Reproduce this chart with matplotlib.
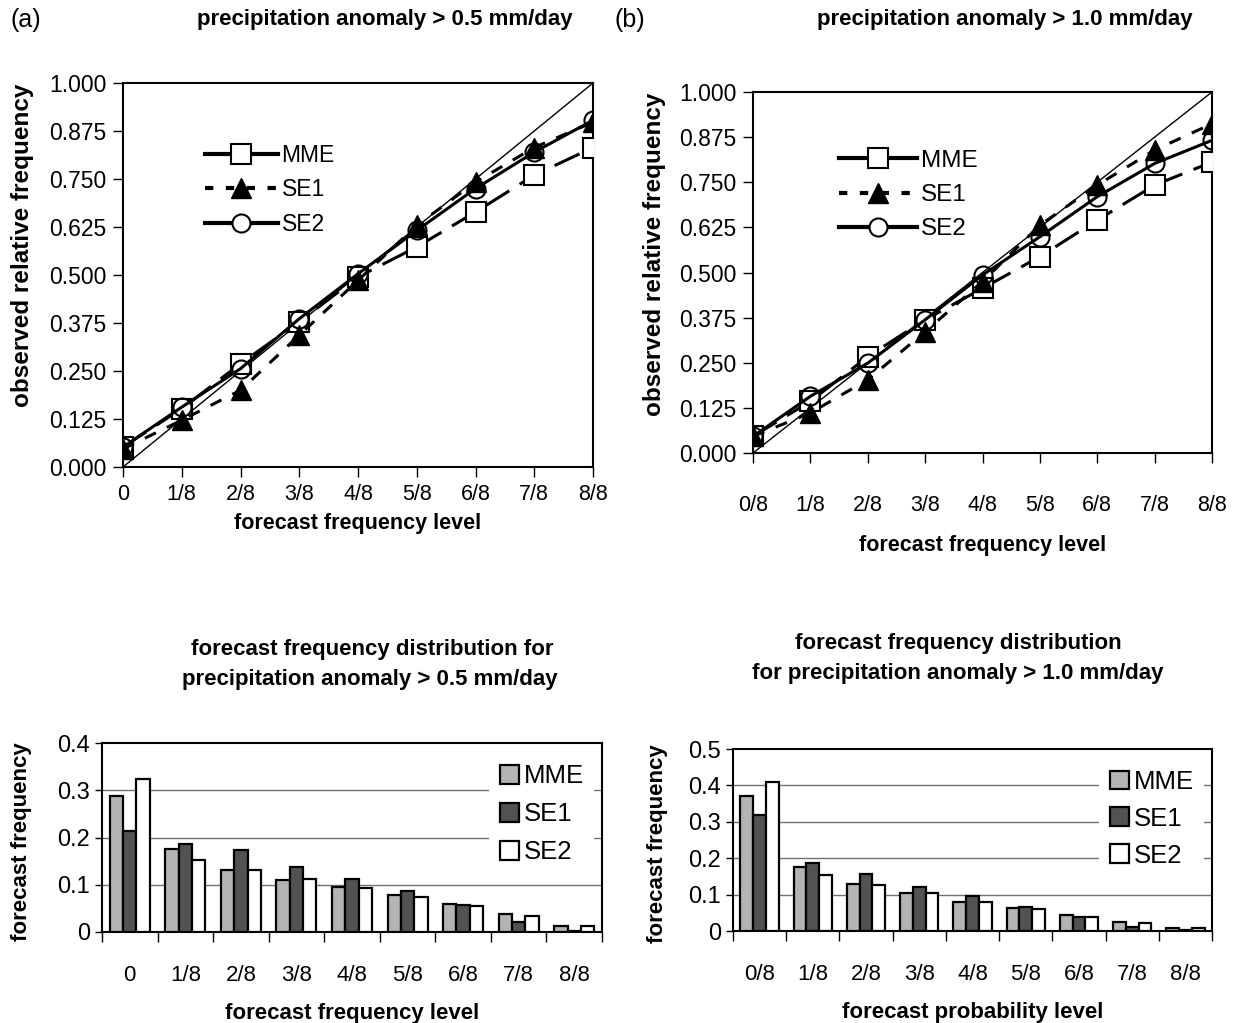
import matplotlib
matplotlib.use("Agg")
import matplotlib.pyplot as plt
from matplotlib.lines import Line2D
from matplotlib.ticker import FixedLocator

plt.rcParams['font.family'] = ['Liberation Sans', 'DejaVu Sans']

# ---- data ----
levels_a = ['0', '1/8', '2/8', '3/8', '4/8', '5/8', '6/8', '7/8', '8/8']
levels_b = ['0/8', '1/8', '2/8', '3/8', '4/8', '5/8', '6/8', '7/8', '8/8']
series = ['MME', 'SE1', 'SE2']

# reliability (observed relative frequency)
rel_a_mme = [0.052, 0.152, 0.269, 0.378, 0.495, 0.573, 0.664, 0.760, 0.832]
rel_a_se1 = [0.047, 0.122, 0.200, 0.343, 0.486, 0.629, 0.742, 0.832, 0.898]
rel_a_se2 = [0.052, 0.156, 0.256, 0.386, 0.503, 0.616, 0.725, 0.820, 0.903]

rel_b_mme = [0.046, 0.143, 0.267, 0.369, 0.456, 0.544, 0.645, 0.742, 0.806]
rel_b_se1 = [0.046, 0.111, 0.203, 0.336, 0.475, 0.631, 0.742, 0.839, 0.912]
rel_b_se2 = [0.046, 0.157, 0.249, 0.369, 0.493, 0.599, 0.710, 0.802, 0.866]

# forecast frequency distribution
freq_a_mme = [0.288, 0.176, 0.132, 0.110, 0.096, 0.078, 0.059, 0.038, 0.012]
freq_a_se1 = [0.213, 0.186, 0.173, 0.138, 0.113, 0.086, 0.057, 0.021, 0.002]
freq_a_se2 = [0.324, 0.152, 0.132, 0.113, 0.093, 0.074, 0.055, 0.033, 0.012]

freq_b_mme = [0.370, 0.177, 0.129, 0.104, 0.081, 0.062, 0.044, 0.024, 0.008]
freq_b_se1 = [0.319, 0.186, 0.157, 0.122, 0.096, 0.067, 0.038, 0.012, 0.003]
freq_b_se2 = [0.409, 0.154, 0.127, 0.104, 0.079, 0.060, 0.039, 0.023, 0.008]

W, H = 1238, 1023
fig = plt.figure(figsize=(W / 100, H / 100), dpi=100)


def px_axes(l, t, r, b):
    return fig.add_axes([l / W, 1 - b / H, (r - l) / W, (b - t) / H])


def line_panel(ax, mme, se1, se2, labels, xpad, leg_anchor, leg_fs, leg_sp):
    x = list(range(len(labels)))
    ax.plot([0, 8], [0, 1], color='black', lw=1.0, zorder=1)
    ax.plot(x, mme, color='black', lw=2.2, dashes=(9, 4), marker='s', ms=14,
            mfc='white', mec='black', mew=1.5, zorder=3)
    ax.plot(x, se1, color='black', lw=2.2, dashes=(4, 4), marker='^', ms=14,
            mfc='black', mec='black', zorder=4)
    ax.plot(x, se2, color='black', lw=2.2, marker='o', ms=13,
            mfc='none', mec='black', mew=1.5, zorder=5)
    ax.set_xlim(0, 8)
    ax.set_ylim(0, 1)
    ax.set_xticks(x)
    ax.set_xticklabels(labels)
    yt = [i * 0.125 for i in range(9)]
    ax.set_yticks(yt)
    ax.set_yticklabels(['%.3f' % v for v in yt])
    ax.tick_params(axis='x', labelsize=15.5, length=7, width=1, pad=xpad)
    ax.tick_params(axis='y', labelsize=16.5, length=7, width=1, pad=5)
    for s in ax.spines.values():
        s.set_linewidth(1.5)
    handles = [
        Line2D([], [], color='black', lw=3, marker='s', ms=14, mfc='white', mew=1.5),
        Line2D([], [], color='black', lw=3, dashes=(2, 3), marker='^', ms=14, mfc='black'),
        Line2D([], [], color='black', lw=3, marker='o', ms=13, mfc='white', mew=1.5),
    ]
    ax.legend(handles, series, loc='upper left', bbox_to_anchor=leg_anchor,
              frameon=False, fontsize=leg_fs, handlelength=3.2, handletextpad=0.15,
              labelspacing=leg_sp)


def bar_panel(ax, mme, se1, se2, labels, ymax, leg_sp):
    x = list(range(len(labels)))
    w = 0.24
    ax.bar([i - w for i in x], mme, w, color='#b4b4b4', edgecolor='black', lw=1.6,
           label='MME', zorder=3)
    ax.bar(x, se1, w, color='#525252', edgecolor='black', lw=1.6, label='SE1', zorder=3)
    ax.bar([i + w for i in x], se2, w, color='white', edgecolor='black', lw=1.6,
           label='SE2', zorder=3)
    ax.set_xlim(-0.5, 8.5)
    ax.set_ylim(0, ymax)
    yt = [round(i * 0.1, 1) for i in range(int(round(ymax * 10)) + 1)]
    ax.set_yticks(yt)
    ax.set_yticklabels(['0'] + ['%.1f' % v for v in yt[1:]])
    for v in yt[1:-1]:
        ax.axhline(v, color='#707070', lw=1.0, zorder=1)
    ax.set_xticks(x)
    ax.set_xticklabels(labels)
    ax.xaxis.set_minor_locator(FixedLocator([i - 0.5 for i in range(10)]))
    ax.tick_params(axis='x', which='major', length=0, labelsize=16, pad=24)
    ax.tick_params(axis='x', which='minor', length=7, width=1)
    ax.tick_params(axis='y', labelsize=17, length=5, width=1)
    for s in ax.spines.values():
        s.set_linewidth(1.5)
    leg = ax.legend(loc='upper right', bbox_to_anchor=(0.995, 0.97), frameon=True,
                    fontsize=18.5, handlelength=0.75, handleheight=0.75,
                    handletextpad=0.2, labelspacing=leg_sp, borderaxespad=0.2,
                    fancybox=False)
    leg.get_frame().set_edgecolor('none')
    leg.get_frame().set_facecolor('white')
    leg.get_frame().set_alpha(1.0)
    leg.set_zorder(5)


# ---- top panels ----
ax1 = px_axes(123, 83, 593, 467)
line_panel(ax1, rel_a_mme, rel_a_se1, rel_a_se2, levels_a, 5, (0.13, 0.895), 16.5, 0.5)
ax1.set_ylabel('observed relative frequency', fontsize=17.5, fontweight='bold')
ax1.yaxis.set_label_coords(-0.19, 0.578)
ax1.set_xlabel('forecast frequency level', fontsize=15.5, fontweight='bold', labelpad=6)

ax2 = px_axes(753, 92, 1212, 453)
line_panel(ax2, rel_b_mme, rel_b_se1, rel_b_se2, levels_b, 23, (0.14, 0.9), 17.5, 0.5)
ax2.set_ylabel('observed relative frequency', fontsize=17.5, fontweight='bold')
ax2.yaxis.set_label_coords(-0.19, 0.55)
ax2.set_xlabel('forecast frequency level', fontsize=15.5, fontweight='bold', labelpad=14)

fig.text(10 / W, 1 - 20 / H, '(a)', fontsize=18, va='center', ha='left')
fig.text(614 / W, 1 - 20 / H, '(b)', fontsize=18, va='center', ha='left')
fig.text(385 / W, 1 - 20 / H, 'precipitation anomaly > 0.5 mm/day', fontsize=16,
         fontweight='bold', ha='center', va='center')
fig.text(1005 / W, 1 - 20 / H, 'precipitation anomaly > 1.0 mm/day', fontsize=16,
         fontweight='bold', ha='center', va='center')

# ---- bottom panels ----
ax3 = px_axes(102, 743, 602, 932)
bar_panel(ax3, freq_a_mme, freq_a_se1, freq_a_se2, levels_a, 0.4, 0.55)
ax3.set_ylabel('forecast frequency', fontsize=16, fontweight='bold')
ax3.yaxis.set_label_coords(-0.139, 0.48)
ax3.set_xlabel('forecast frequency level', fontsize=16, fontweight='bold', labelpad=12)
fig.text(372 / W, 1 - 650 / H, 'forecast frequency distribution for', fontsize=16,
         fontweight='bold', ha='center', va='center')
fig.text(370 / W, 1 - 680 / H, 'precipitation anomaly > 0.5 mm/day', fontsize=16,
         fontweight='bold', ha='center', va='center')

ax4 = px_axes(733, 749, 1212, 931)
bar_panel(ax4, freq_b_mme, freq_b_se1, freq_b_se2, levels_b, 0.5, 0.5)
ax4.set_ylabel('forecast frequency', fontsize=16, fontweight='bold')
ax4.yaxis.set_label_coords(-0.136, 0.48)
ax4.set_xlabel('forecast probability level', fontsize=16, fontweight='bold', labelpad=12)
fig.text(958 / W, 1 - 643 / H, 'forecast frequency distribution', fontsize=16,
         fontweight='bold', ha='center', va='center')
fig.text(958 / W, 1 - 673 / H, 'for precipitation anomaly > 1.0 mm/day', fontsize=16,
         fontweight='bold', ha='center', va='center')

fig.savefig('out.png', dpi=100)
